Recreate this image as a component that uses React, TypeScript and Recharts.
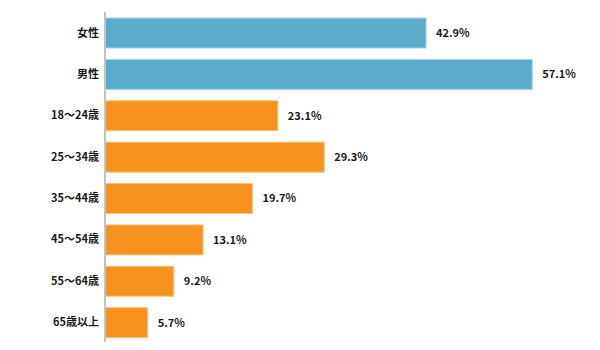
import React from 'react';
import { BarChart, Bar, XAxis, YAxis, Cell, LabelList } from 'recharts';

const categories = ['女性', '男性', '18〜24歳', '25〜34歳', '35〜44歳', '45〜54歳', '55〜64歳', '65歳以上'];
const shares = [42.9, 57.1, 23.1, 29.3, 19.7, 13.1, 9.2, 5.7];
const groups = ['gender', 'gender', 'age', 'age', 'age', 'age', 'age', 'age'];

const FONT = '"Noto Sans CJK JP", "Noto Sans", sans-serif';

const fills: Record<string, string> = { gender: '#5aabcc', age: '#f7921f' };
const borders: Record<string, string> = { gender: '#a9d4e7', age: '#fbc27f' };

export default function App() {
  const chartData = categories.map((name, i) => ({ name, value: shares[i], group: groups[i] }));

  return (
    <div style={{ margin: -8, width: 600, height: 350, background: '#fff' }}>
      <BarChart
        width={600}
        height={350}
        data={chartData}
        layout="vertical"
        margin={{ top: 12, right: 46, left: 0, bottom: 7 }}
        barSize={30}
      >
        <XAxis type="number" domain={[0, 60]} hide />
        <YAxis
          type="category"
          dataKey="name"
          width={105}
          axisLine={{ stroke: '#c2c2c2', strokeWidth: 2 }}
          tickLine={false}
          tickMargin={0}
          tick={{ fontSize: 11, fontWeight: 700, fill: '#1a1a1a', fontFamily: FONT }}
        />
        <Bar dataKey="value" isAnimationActive={false} strokeWidth={1}>
          {chartData.map((d) => (
            <Cell key={d.name} fill={fills[d.group]} stroke={borders[d.group]} />
          ))}
          <LabelList
            dataKey="value"
            position="right"
            offset={10}
            formatter={(v: number) => `${v.toFixed(1)}%`}
            style={{ fontSize: 11, fontWeight: 700, fill: '#1a1a1a', fontFamily: FONT }}
          />
        </Bar>
      </BarChart>
    </div>
  );
}
